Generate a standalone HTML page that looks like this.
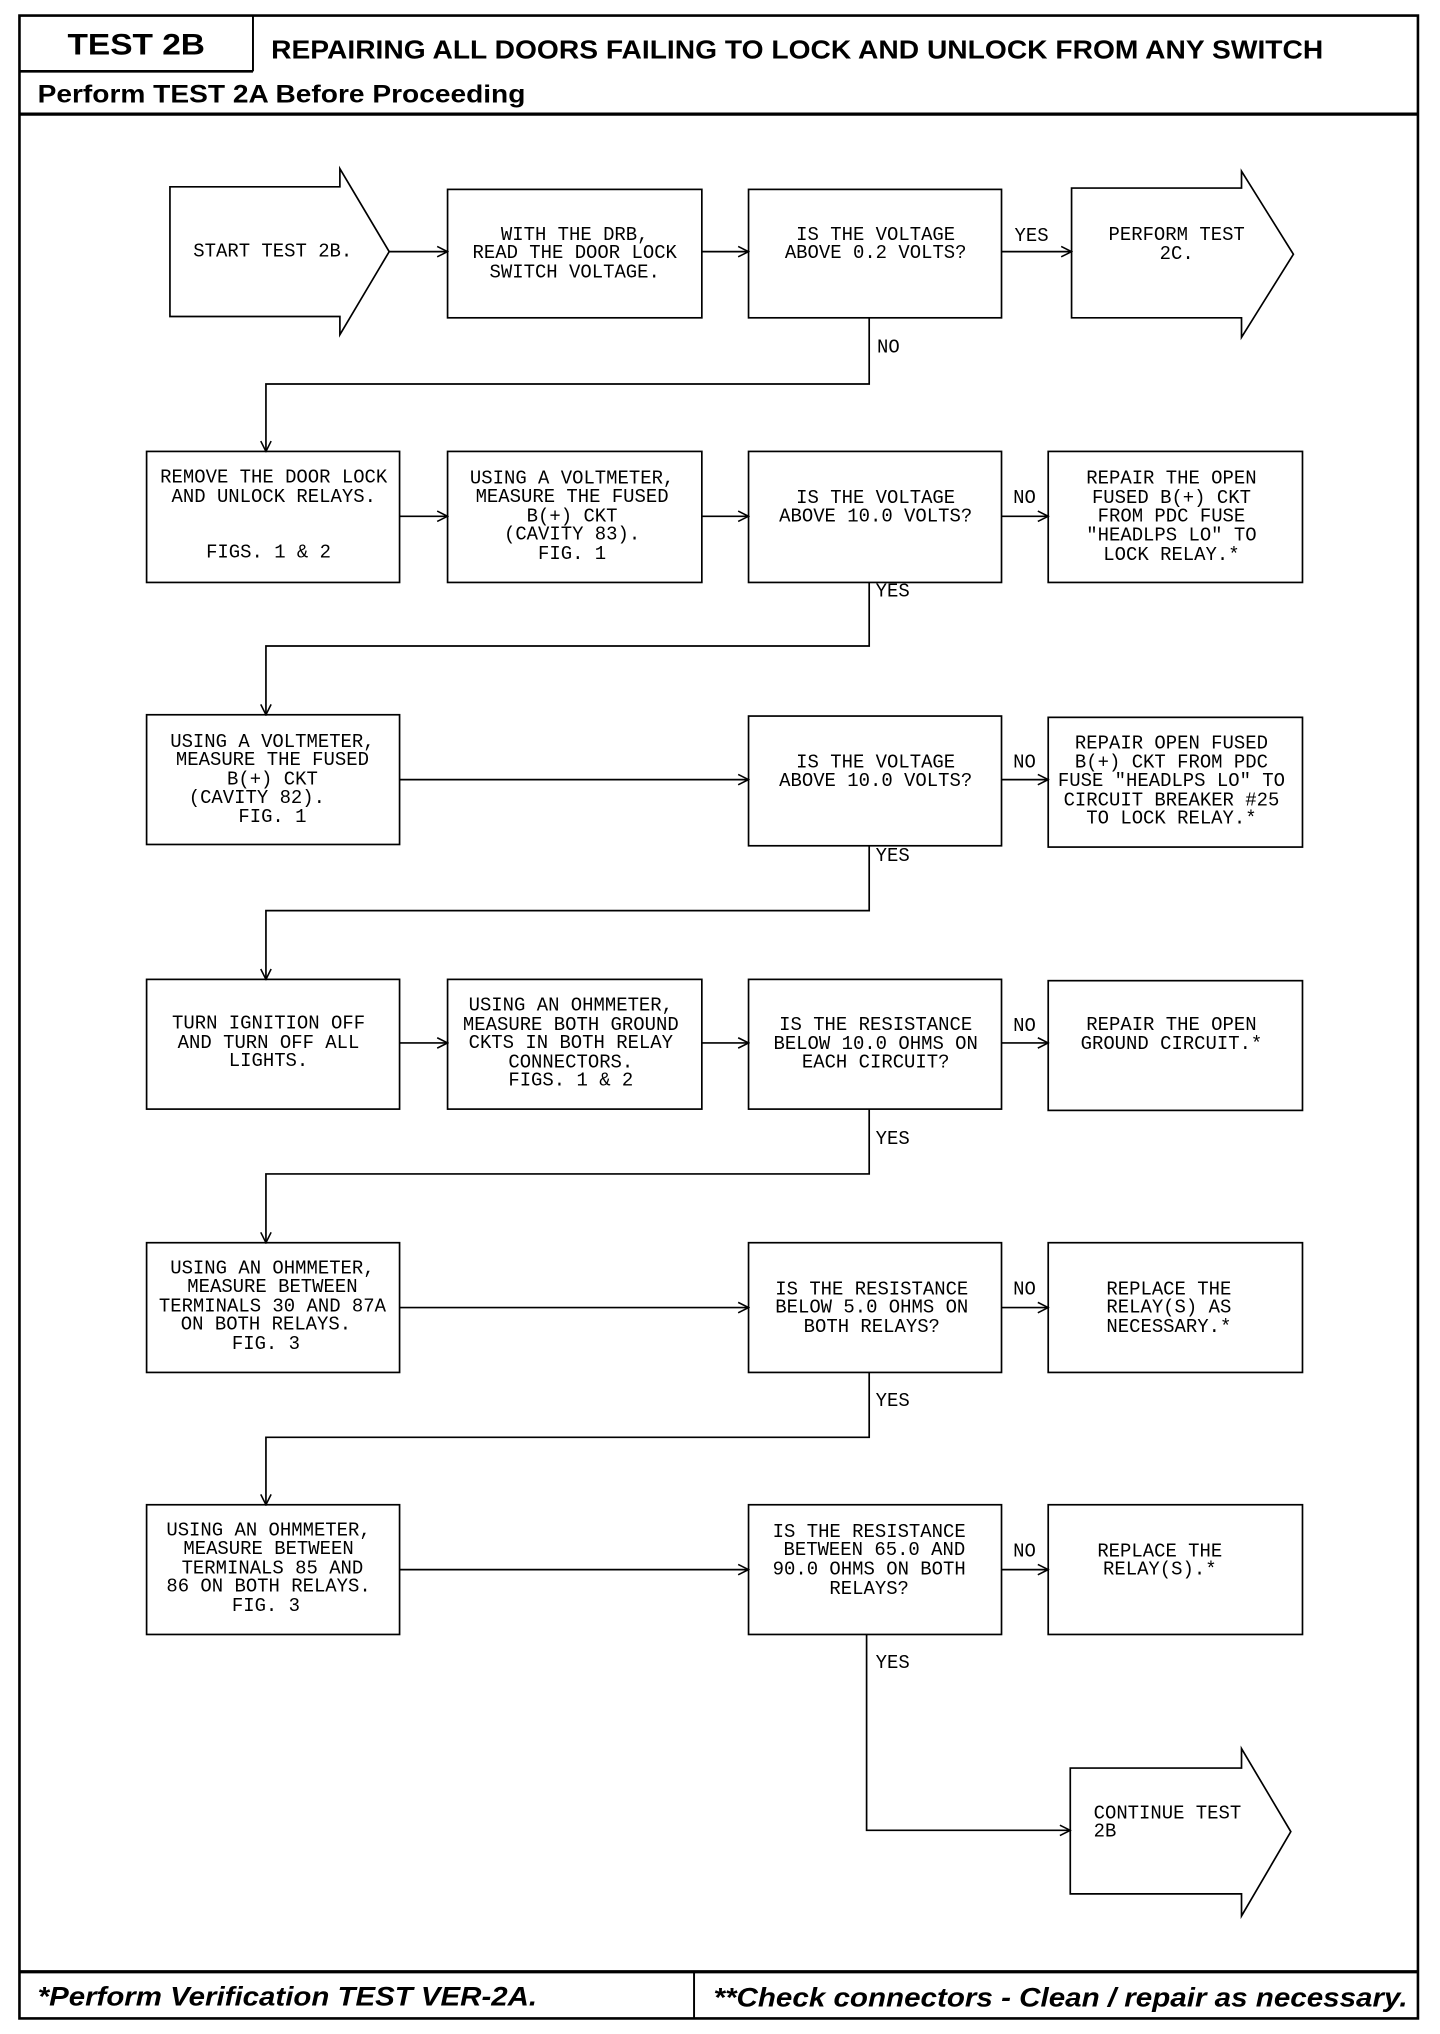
<!DOCTYPE html>
<html><head><meta charset="utf-8"><style>
html,body{margin:0;padding:0;background:#fff;}
svg{display:block;}
.m{font-family:"Liberation Mono",monospace;font-size:14.6px;fill:#000;}
.h{font-family:"Liberation Sans",sans-serif;font-weight:bold;fill:#000;}
.hi{font-family:"Liberation Sans",sans-serif;font-weight:bold;font-style:italic;fill:#000;}
</style></head><body>
<svg width="1440" height="2034" viewBox="0 0 1110 1568" preserveAspectRatio="none" xmlns="http://www.w3.org/2000/svg">
<defs><marker id="a" markerWidth="10" markerHeight="10" refX="9" refY="5" orient="auto" markerUnits="userSpaceOnUse"><path d="M1,1 L9,5 L1,9" fill="none" stroke="#000" stroke-width="1.2"/></marker></defs>
<g fill="none" stroke="#000">
<rect x="15" y="12" width="1078" height="1544" stroke-width="2"/>
<line x1="15" y1="55" x2="195" y2="55" stroke-width="2"/>
<line x1="195" y1="12" x2="195" y2="55" stroke-width="1.5"/>
<line x1="15" y1="88" x2="1093" y2="88" stroke-width="2.5"/>
<line x1="15" y1="1520" x2="1093" y2="1520" stroke-width="2.5"/>
<line x1="535" y1="1520" x2="535" y2="1556" stroke-width="1.5"/>
</g>
<text class="h" x="105" y="42" font-size="23" text-anchor="middle" textLength="106" lengthAdjust="spacingAndGlyphs">TEST 2B</text>
<text class="h" x="209" y="45" font-size="20" textLength="811" lengthAdjust="spacingAndGlyphs">REPAIRING ALL DOORS FAILING TO LOCK AND UNLOCK FROM ANY SWITCH</text>
<text class="h" x="29" y="79" font-size="19" textLength="376" lengthAdjust="spacingAndGlyphs">Perform TEST 2A Before Proceeding</text>
<text class="hi" x="29" y="1546" font-size="21" textLength="385" lengthAdjust="spacingAndGlyphs">*Perform Verification TEST VER-2A.</text>
<text class="hi" x="550" y="1547" font-size="21" textLength="535" lengthAdjust="spacingAndGlyphs">**Check connectors - Clean / repair as necessary.</text>

<g fill="#fff" stroke="#000" stroke-width="1.3">
<path d="M131,144 H262 V130 L300,194 L262,258 V244 H131 Z"/>
<path d="M826,145 H957 V132 L997,196 L957,260 V245 H826 Z"/>
<path d="M825,1363 H957 V1348 L995,1412 L957,1477 V1460 H825 Z"/>
<rect x="345" y="146" width="196" height="99"/>
<rect x="577" y="146" width="195" height="99"/>
<rect x="113" y="348" width="195" height="101"/>
<rect x="345" y="348" width="196" height="101"/>
<rect x="577" y="348" width="195" height="101"/>
<rect x="808" y="348" width="196" height="101"/>
<rect x="113" y="551" width="195" height="100"/>
<rect x="577" y="552" width="195" height="100"/>
<rect x="808" y="553" width="196" height="100"/>
<rect x="113" y="755" width="195" height="100"/>
<rect x="345" y="755" width="196" height="100"/>
<rect x="577" y="755" width="195" height="100"/>
<rect x="808" y="756" width="196" height="100"/>
<rect x="113" y="958" width="195" height="100"/>
<rect x="577" y="958" width="195" height="100"/>
<rect x="808" y="958" width="196" height="100"/>
<rect x="113" y="1160" width="195" height="100"/>
<rect x="577" y="1160" width="195" height="100"/>
<rect x="808" y="1160" width="196" height="100"/>
</g>

<g fill="none" stroke="#000" stroke-width="1.3" marker-end="url(#a)">
<line x1="300" y1="194" x2="345" y2="194"/>
<line x1="541" y1="194" x2="577" y2="194"/>
<line x1="772" y1="194" x2="826" y2="194"/>
<path d="M670,245 V296 H205 V348"/>
<line x1="308" y1="398" x2="345" y2="398"/>
<line x1="541" y1="398" x2="577" y2="398"/>
<line x1="772" y1="398" x2="808" y2="398"/>
<path d="M670,449 V498 H205 V551"/>
<line x1="308" y1="601" x2="577" y2="601"/>
<line x1="772" y1="601" x2="808" y2="601"/>
<path d="M670,652 V702 H205 V755"/>
<line x1="308" y1="804" x2="345" y2="804"/>
<line x1="541" y1="804" x2="577" y2="804"/>
<line x1="772" y1="804" x2="808" y2="804"/>
<path d="M670,855 V905 H205 V958"/>
<line x1="308" y1="1008" x2="577" y2="1008"/>
<line x1="772" y1="1008" x2="808" y2="1008"/>
<path d="M670,1058 V1108 H205 V1160"/>
<line x1="308" y1="1210" x2="577" y2="1210"/>
<line x1="772" y1="1210" x2="808" y2="1210"/>
<path d="M668,1260 V1411 H825"/>
</g>

<g class="m" dominant-baseline="central">
<text x="676" y="268">NO</text>
<text x="782" y="182">YES</text>
<text x="781" y="384">NO</text>
<text x="675" y="456">YES</text>
<text x="781" y="588">NO</text>
<text x="675" y="660">YES</text>
<text x="781" y="791">NO</text>
<text x="675" y="878">YES</text>
<text x="781" y="994">NO</text>
<text x="675" y="1080">YES</text>
<text x="781" y="1196">NO</text>
<text x="675" y="1282">YES</text>
<text x="149" y="194">START TEST 2B.</text>
<text x="843" y="1398">CONTINUE TEST</text>
<text x="843" y="1412">2B</text>
</g>
<g class="m" dominant-baseline="central" text-anchor="middle">
<text x="443" y="181">WITH THE DRB,</text>
<text x="443" y="195">READ THE DOOR LOCK</text>
<text x="443" y="210">SWITCH VOLTAGE.</text>
<text x="675" y="181">IS THE VOLTAGE</text>
<text x="675" y="195">ABOVE 0.2 VOLTS?</text>
<text x="907" y="181">PERFORM TEST</text>
<text x="907" y="196">2C.</text>

<text x="211" y="368">REMOVE THE DOOR LOCK</text>
<text x="211" y="383">AND UNLOCK RELAYS.</text>
<text x="207" y="426">FIGS. 1 &amp; 2</text>
<text x="441" y="369">USING A VOLTMETER,</text>
<text x="441" y="383">MEASURE THE FUSED</text>
<text x="441" y="398">B(+) CKT</text>
<text x="441" y="412">(CAVITY 83).</text>
<text x="441" y="427">FIG. 1</text>
<text x="675" y="384">IS THE VOLTAGE</text>
<text x="675" y="398">ABOVE 10.0 VOLTS?</text>
<text x="903" y="369">REPAIR THE OPEN</text>
<text x="903" y="384">FUSED B(+) CKT</text>
<text x="903" y="398">FROM PDC FUSE</text>
<text x="903" y="413">"HEADLPS LO" TO</text>
<text x="903" y="428">LOCK RELAY.*</text>

<text x="210" y="572">USING A VOLTMETER,</text>
<text x="210" y="586">MEASURE THE FUSED</text>
<text x="210" y="601">B(+) CKT</text>
<text x="198" y="615">(CAVITY 82).</text>
<text x="210" y="630">FIG. 1</text>
<text x="675" y="588">IS THE VOLTAGE</text>
<text x="675" y="602">ABOVE 10.0 VOLTS?</text>
<text x="903" y="573">REPAIR OPEN FUSED</text>
<text x="903" y="588">B(+) CKT FROM PDC</text>
<text x="903" y="602">FUSE "HEADLPS LO" TO</text>
<text x="903" y="617">CIRCUIT BREAKER #25</text>
<text x="903" y="631">TO LOCK RELAY.*</text>

<text x="207" y="789">TURN IGNITION OFF</text>
<text x="207" y="804">AND TURN OFF ALL</text>
<text x="207" y="818">LIGHTS.</text>
<text x="440" y="775">USING AN OHMMETER,</text>
<text x="440" y="790">MEASURE BOTH GROUND</text>
<text x="440" y="804">CKTS IN BOTH RELAY</text>
<text x="440" y="819">CONNECTORS.</text>
<text x="440" y="833">FIGS. 1 &amp; 2</text>
<text x="675" y="790">IS THE RESISTANCE</text>
<text x="675" y="805">BELOW 10.0 OHMS ON</text>
<text x="675" y="819">EACH CIRCUIT?</text>
<text x="903" y="790">REPAIR THE OPEN</text>
<text x="903" y="805">GROUND CIRCUIT.*</text>

<text x="210" y="978">USING AN OHMMETER,</text>
<text x="210" y="992">MEASURE BETWEEN</text>
<text x="210" y="1007">TERMINALS 30 AND 87A</text>
<text x="205" y="1021">ON BOTH RELAYS.</text>
<text x="205" y="1036">FIG. 3</text>
<text x="672" y="994">IS THE RESISTANCE</text>
<text x="672" y="1008">BELOW 5.0 OHMS ON</text>
<text x="672" y="1023">BOTH RELAYS?</text>
<text x="901" y="994">REPLACE THE</text>
<text x="901" y="1008">RELAY(S) AS</text>
<text x="901" y="1023">NECESSARY.*</text>

<text x="207" y="1180">USING AN OHMMETER,</text>
<text x="207" y="1194">MEASURE BETWEEN</text>
<text x="210" y="1209">TERMINALS 85 AND</text>
<text x="207" y="1223">86 ON BOTH RELAYS.</text>
<text x="205" y="1238">FIG. 3</text>
<text x="670" y="1181">IS THE RESISTANCE</text>
<text x="674" y="1195">BETWEEN 65.0 AND</text>
<text x="670" y="1210">90.0 OHMS ON BOTH</text>
<text x="670" y="1225">RELAYS?</text>
<text x="894" y="1196">REPLACE THE</text>
<text x="894" y="1210">RELAY(S).*</text>
</g>
</svg>
</body></html>
